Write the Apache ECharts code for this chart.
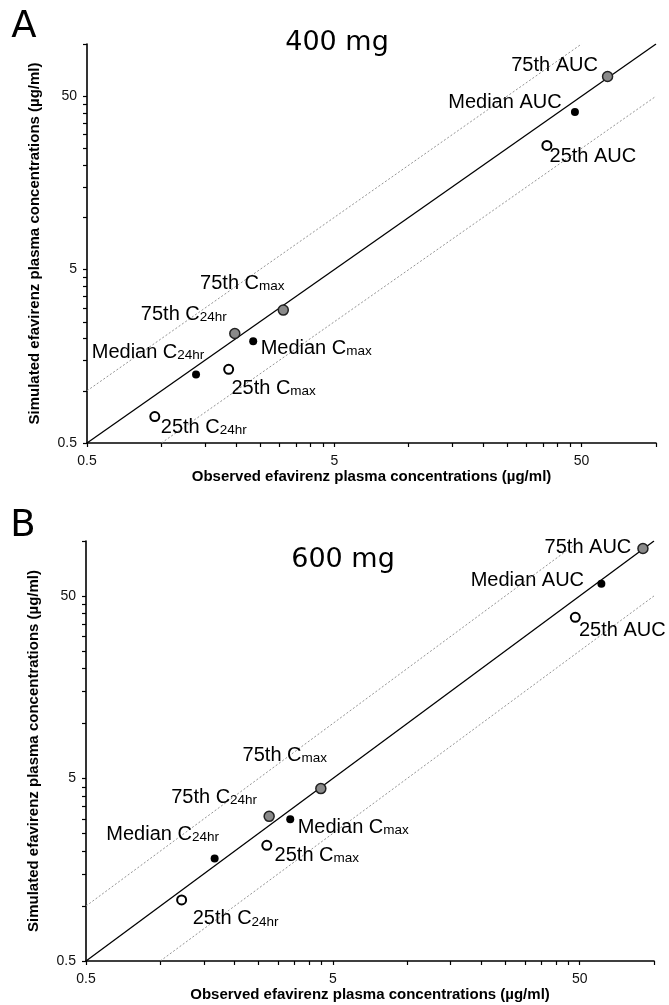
<!DOCTYPE html>
<html>
<head>
<meta charset="utf-8">
<script src="https://cdn.jsdelivr.net/npm/echarts@6/dist/echarts.min.js"></script>
<style>
html,body{margin:0;padding:0;background:#fff;}
#chart{width:669px;height:1005px;}
</style>
</head>
<body>
<div id="chart"></div>
<script>
// ---- data ----
const tickLabels = [0.5, 5, 50];
const tickValues = [0.5, 1, 1.5, 2, 2.5, 3, 3.5, 4, 4.5, 5, 10, 15, 20, 25, 30, 35, 40, 45, 50, 100];
const metrics = ['C24hr', 'Cmax', 'AUC'];

// [observed, simulated] for C24hr, Cmax, AUC
const a400_p25 = [[0.94, 0.71], [1.87, 1.33], [36.2, 26.0]];
const a400_med = [[1.38, 1.24], [2.35, 1.93], [47.0, 40.6]];
const a400_p75 = [[1.98, 2.14], [3.11, 2.92], [63.7, 65.0]];

const b600_p25 = [[1.22, 1.08], [2.70, 2.15], [48.0, 38.2]];
const b600_med = [[1.66, 1.82], [3.36, 2.99], [61.2, 58.4]];
const b600_p75 = [[2.76, 3.10], [4.47, 4.40], [90.2, 91.0]];

const identityLine = [[0.5, 0.5], [100, 100]];
const upperLine = [[0.5, 1], [50, 100]];
const lowerLine = [[1, 0.5], [100, 50]];

// ---- label layout (pixel offsets from point centre) ----
const offA = {
  p25: [[49, 10], [45, 18], [46, 10]],
  med: [[-48, -23], [63, 6], [-70, -10]],
  p75: [[-51, -20], [-41, -28], [-53, -12]]
};
const offB = {
  p25: [[54, 18], [50, 9], [47, 12]],
  med: [[-52, -25], [63, 7], [-74, -4]],
  p75: [[-55, -20], [-36, -34], [-55, -2]]
};

const FONT = '"Liberation Sans", Arial, sans-serif';
const rich = {
  m: { fontSize: 20, fontFamily: FONT, color: '#000', lineHeight: 22, verticalAlign: 'bottom' },
  s: { fontSize: 13.5, fontFamily: FONT, color: '#000', lineHeight: 11, verticalAlign: 'bottom' }
};

function labelText(prefix, metric) {
  if (metric === 'AUC') return '{m|' + prefix + ' AUC}';
  const sub = metric.slice(1);
  return '{m|' + prefix + ' C}{s|' + sub + '}';
}

function buildPoints(values, prefix, offs) {
  return values.map((v, i) => ({
    name: prefix + ' ' + metrics[i],
    value: v,
    label: {
      show: true,
      position: 'inside',
      offset: offs[i],
      align: 'center',
      verticalAlign: 'middle',
      color: '#000',
      opacity: 1,
      formatter: labelText(prefix, metrics[i]),
      rich: rich
    }
  }));
}

function axisCommon() {
  return {
    type: 'log',
    logBase: 10,
    min: 0.5,
    max: 100,
    axisLine: { show: true, lineStyle: { color: '#000', width: 1.6 } },
    axisTick: { show: true, customValues: tickValues, length: 4, inside: false, lineStyle: { color: '#000', width: 1.2 } },
    axisLabel: {
      customValues: tickLabels,
      color: '#111',
      fontSize: 14,
      fontFamily: FONT,
      formatter: v => String(+(+v).toPrecision(3))
    },
    splitLine: { show: false },
    minorTick: { show: false },
    minorSplitLine: { show: false }
  };
}

const xName = 'Observed efavirenz plasma concentrations (µg/ml)';
const yName = 'Simulated efavirenz plasma concentrations (µg/ml)';
const nameStyle = { fontSize: 15, fontWeight: 'bold', fontFamily: FONT, color: '#000' };

const xAxes = [
  Object.assign(axisCommon(), { gridIndex: 0, name: xName, nameLocation: 'middle', nameGap: 24, nameTextStyle: nameStyle }),
  Object.assign(axisCommon(), { gridIndex: 1, name: xName, nameLocation: 'middle', nameGap: 20, nameTextStyle: nameStyle })
];
xAxes.forEach(a => { a.axisLabel.margin = 11; });
const yAxes = [
  Object.assign(axisCommon(), { gridIndex: 0, name: yName, nameLocation: 'middle', nameGap: 45, nameTextStyle: nameStyle }),
  Object.assign(axisCommon(), { gridIndex: 1, name: yName, nameLocation: 'middle', nameGap: 45, nameTextStyle: nameStyle })
];
yAxes.forEach(a => { a.axisLabel.margin = 10; });

function lineSeries(idx, data, dotted) {
  return {
    type: 'line',
    xAxisIndex: idx, yAxisIndex: idx,
    data: data,
    symbol: 'none',
    silent: true,
    z: 1,
    lineStyle: dotted
      ? { color: '#888', width: 0.9, type: [2, 2], opacity: 1 }
      : { color: '#000', width: 1.3, opacity: 1 }
  };
}

function scatterSeries(idx, data, kind) {
  const styles = {
    p75: { size: 10, item: { color: '#8a8a8a', borderColor: '#222', borderWidth: 1.5, opacity: 1 } },
    med: { size: 8, item: { color: '#000', borderColor: '#000', borderWidth: 0, opacity: 1 } },
    p25: { size: 9, item: { color: '#fff', borderColor: '#000', borderWidth: 2, opacity: 1 } }
  };
  return {
    type: 'scatter',
    xAxisIndex: idx, yAxisIndex: idx,
    data: data,
    symbol: 'circle',
    symbolSize: styles[kind].size,
    itemStyle: styles[kind].item,
    z: 3,
    silent: true
  };
}

const series = [
  lineSeries(0, identityLine, false), lineSeries(0, upperLine, true), lineSeries(0, lowerLine, true),
  scatterSeries(0, buildPoints(a400_p25, '25th', offA.p25), 'p25'),
  scatterSeries(0, buildPoints(a400_med, 'Median', offA.med), 'med'),
  scatterSeries(0, buildPoints(a400_p75, '75th', offA.p75), 'p75'),
  lineSeries(1, identityLine, false), lineSeries(1, upperLine, true), lineSeries(1, lowerLine, true),
  scatterSeries(1, buildPoints(b600_p25, '25th', offB.p25), 'p25'),
  scatterSeries(1, buildPoints(b600_med, 'Median', offB.med), 'med'),
  scatterSeries(1, buildPoints(b600_p75, '75th', offB.p75), 'p75')
];

const TFONT = '"DejaVu Sans", Verdana, sans-serif';
const chart = echarts.init(document.getElementById('chart'), null, { renderer: 'canvas' });
chart.setOption({
  animation: false,
  backgroundColor: '#fff',
  grid: [
    { left: 87, top: 44, width: 569, height: 399 },
    { left: 86, top: 541, width: 568, height: 420 }
  ],
  xAxis: xAxes,
  yAxis: yAxes,
  graphic: [
    { type: 'text', x: 24, y: 27, style: { text: 'A', font: '37px ' + TFONT, fill: '#000', textAlign: 'center', textVerticalAlign: 'middle' } },
    { type: 'text', x: 23, y: 526, style: { text: 'B', font: '37px ' + TFONT, fill: '#000', textAlign: 'center', textVerticalAlign: 'middle' } },
    { type: 'text', x: 337, y: 43, style: { text: '400 mg', font: '27px ' + TFONT, fill: '#000', textAlign: 'center', textVerticalAlign: 'middle' } },
    { type: 'text', x: 343, y: 560, style: { text: '600 mg', font: '27px ' + TFONT, fill: '#000', textAlign: 'center', textVerticalAlign: 'middle' } }
  ],
  series: series
});
</script>
</body>
</html>
